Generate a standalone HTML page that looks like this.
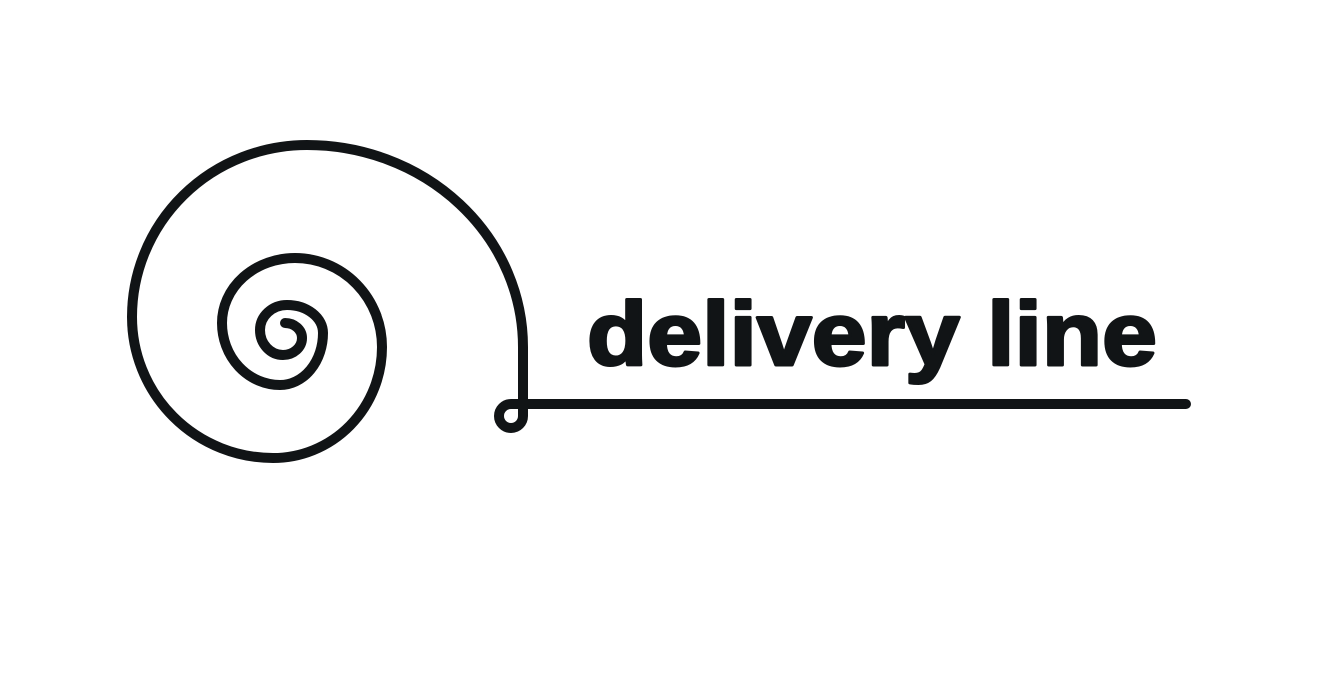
<!DOCTYPE html>
<html><head><style>html,body{margin:0;padding:0;background:#fff;}svg{display:block}</style></head>
<body>
<svg width="1317" height="676" viewBox="0 0 1317 676" xmlns="http://www.w3.org/2000/svg">
<rect width="1317" height="676" fill="#fff"/>
<path fill="none" stroke="#111416" stroke-width="10" stroke-linecap="round" stroke-linejoin="round"
d="M285,323 A17,15 0 0 1 302,338 A19,17 0 0 1 283,355 A23,25 0 0 1 260,330 A27,25 0 0 1 287,305 A36,28 0 0 1 323,333 A43,52 0 0 1 280,385 A58,62 0 0 1 222,323 A73,65 0 0 1 295,258 A87,89 0 0 1 382,347 A109,111 0 0 1 273,458 A141,141 0 0 1 132,317 A175,172 0 0 1 307,145 A216,202 0 0 1 523,347 L523,416 A12,12 0 0 1 511,428 A12,12 0 0 1 499,416 A12,12 0 0 1 511,404 L1186,404"/>
<text x="587" y="365" font-family="Liberation Sans, sans-serif" font-weight="bold" font-size="90" fill="#111416" stroke="#111416" stroke-width="3" stroke-linejoin="round" textLength="570" lengthAdjust="spacingAndGlyphs">delivery line</text>
</svg>
</body></html>
